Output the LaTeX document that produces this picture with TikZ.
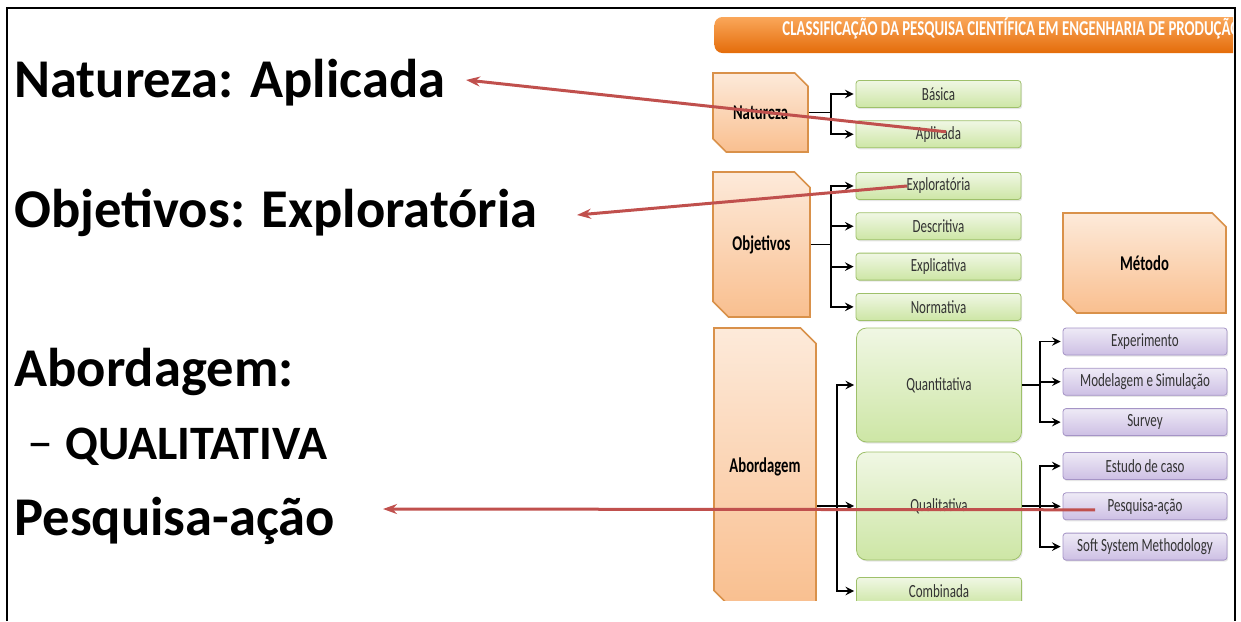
\documentclass[tikz,border=0pt]{standalone}
\usepackage{fontspec}
\setmainfont{Carlito}
\newfontfamily\slidefont[FakeStretch=0.7]{Carlito}
\usetikzlibrary{positioning,shapes.misc,shadows,arrows.meta}
\definecolor{hdrtop}{HTML}{FAA75A}
\definecolor{hdrbot}{HTML}{E46C0A}
\definecolor{peachtop}{HTML}{FDEADA}
\definecolor{peachbot}{HTML}{F9BF8F}
\definecolor{peachedge}{HTML}{D9914A}
\definecolor{greentop}{HTML}{F0F7E4}
\definecolor{greenbot}{HTML}{CDE6A5}
\definecolor{greenedge}{HTML}{9EC06A}
\definecolor{lilactop}{HTML}{EEEAF6}
\definecolor{lilacbot}{HTML}{CDBFE4}
\definecolor{lilacedge}{HTML}{A594C6}
\definecolor{hlred}{HTML}{C0504D}

\begin{document}
\begin{tikzpicture}[x=0.5pt,y=-0.5pt,>=stealth,node distance=6.25pt,
        every node/.style={inner sep=0pt},
        big/.style={font=\bfseries\fontsize{27.3}{33}\selectfont,anchor=base west},
        group/.style={chamfered rectangle,chamfered rectangle corners={north east,south west},
            chamfered rectangle xsep=5pt,top color=peachtop,bottom color=peachbot,draw=peachedge,
            line width=0.8pt,font=\slidefont\bfseries\fontsize{10.5}{12}\selectfont},
        leaf/.style={rounded corners=1.5pt,minimum width=82.5pt,minimum height=13.5pt,
            top color=greentop,bottom color=greenbot,draw=greenedge,
            drop shadow={opacity=0.2,shadow xshift=0.6pt,shadow yshift=-0.8pt},
            font=\slidefont\fontsize{9.3}{11}\selectfont,text=black!80},
        method/.style={leaf,minimum width=82pt,top color=lilactop,bottom color=lilacbot,draw=lilacedge},
        link/.style={->,line width=0.9pt,shorten >=1pt},
        vh/.style={to path={|- (\tikztotarget)}},
        hl/.style={-{Stealth[length=7pt,width=5pt]},draw=hlred,line width=1.5pt}]
    \useasboundingbox (0,0) rectangle (1241,621);
    \draw[line width=1.4pt] (7,621) -- (7,8) -- (1235,8) -- (1235,621);

    % header bar
    \begin{scope}
        \clip (700,0) rectangle (1233,621);
        \node[rounded corners=4pt,minimum width=280pt,minimum height=18pt,
            top color=hdrtop,bottom color=hdrbot,anchor=west] (hdr) at (714,35) {};
        \node[anchor=base west,text=white,font=\slidefont\bfseries\fontsize{10.6}{12}\selectfont]
            (title) at (782,35) {CLASSIFICAÇÃO DA PESQUISA CIENTÍFICA EM ENGENHARIA DE PRODUÇÃO};
    \end{scope}

    % classification chart
    \begin{scope}
        \clip (700,0) rectangle (1233,600);
        \node[group,minimum width=47.5pt,minimum height=39.5pt] (nat) at (760.5,112.5) {Natureza};
        \node[group,minimum width=48.5pt,minimum height=72.5pt] (obj) at (761.5,244.5) {Objetivos};
        \node[group,minimum width=51pt,minimum height=139pt,chamfered rectangle xsep=7pt] (abo) at (765,467) {Abordagem};
        \node[group,minimum width=81.5pt,minimum height=50pt] (met) at (1144.5,263) {Método};

        \node[leaf] (bas) at (938.5,94) {Básica};
        \node[leaf] (apl) [below=of bas] {Aplicada};
        \node[leaf] (expl) at (938.5,186) {Exploratória};
        \node[leaf] (desc) [below=of expl] {Descritiva};
        \node[leaf] (expc) [below=of desc] {Explicativa};
        \node[leaf] (norm) [below=of expc] {Normativa};
        \node[leaf,rounded corners=5pt,minimum height=57pt] (qnt) at (939,385) {Quantitativa};
        \node[leaf,rounded corners=5pt,minimum height=54pt] (qlt) at (939,506) {Qualitativa};
        \node[leaf] (cmb) at (939,591) {Combinada};

        \node[method] (expe) at (1145,341.5) {Experimento};
        \node[method] (mode) [below=of expe] {Modelagem e Simulação};
        \node[method] (surv) [below=of mode] {Survey};
        \node[method] (estu) at (1145,466) {Estudo de caso};
        \node[method] (pesq) [below=of estu] {Pesquisa-ação};
        \node[method] (soft) [below=of pesq] {Soft System Methodology};

        \draw[line width=0.9pt] (nat.east) -- ++(22,0) coordinate (nj);
        \draw[line width=0.9pt] (obj.east) -- ++(20,0) coordinate (oj);
        \draw[line width=0.9pt] (abo.east |- qlt.west) -- ++(20,0) coordinate (aj);
        \draw[line width=0.9pt] (qnt.east) -- ++(18,0) coordinate (qj);
        \draw[line width=0.9pt] (qlt.east) -- ++(18,0) coordinate (lj);
        \path[link] (nj) edge[vh] (bas.west) edge[vh] (apl.west)
                    (oj) edge[vh] (expl.west) edge[vh] (desc.west)
                         edge[vh] (expc.west) edge[vh] (norm.west)
                    (aj) edge[vh] (qnt.west) edge[vh] (qlt.west) edge[vh] (cmb.west)
                    (qj) edge[vh] (expe.west) edge[vh] (mode.west) edge[vh] (surv.west)
                    (lj) edge[vh] (estu.west) edge[vh] (pesq.west) edge[vh] (soft.west);
    \end{scope}

    % slide text
    \node[big] (natlbl) at (14,97) {Natureza: Aplicada};
    \node[big] (objlbl) at (14,227) {Objetivos: Exploratória};
    \node[big] (abolbl) at (14,386) {Abordagem:};
    \node[big,font=\bfseries\fontsize{24}{29}\selectfont] (qualbl) at (27,459) {{\mdseries\fontsize{26}{29}\selectfont –}\hskip6pt QUALITATIVA};
    \node[big] (pqlbl) at (14,535) {Pesquisa-ação};

    % highlight arrows
    \coordinate (natend) at (466,80);
    \coordinate (objend) at (577,215);
    \coordinate (pqend) at (383,509);
    \draw[hl] ([xshift=3.75pt,yshift=1.25pt]apl.center) -- (natend);
    \draw[hl] ([xshift=-15.75pt]expl.center) -- (objend);
    \draw[hl] ([xshift=-25pt,yshift=-1.75pt]pesq.center) -- (pqend);
\end{tikzpicture}
\end{document}
